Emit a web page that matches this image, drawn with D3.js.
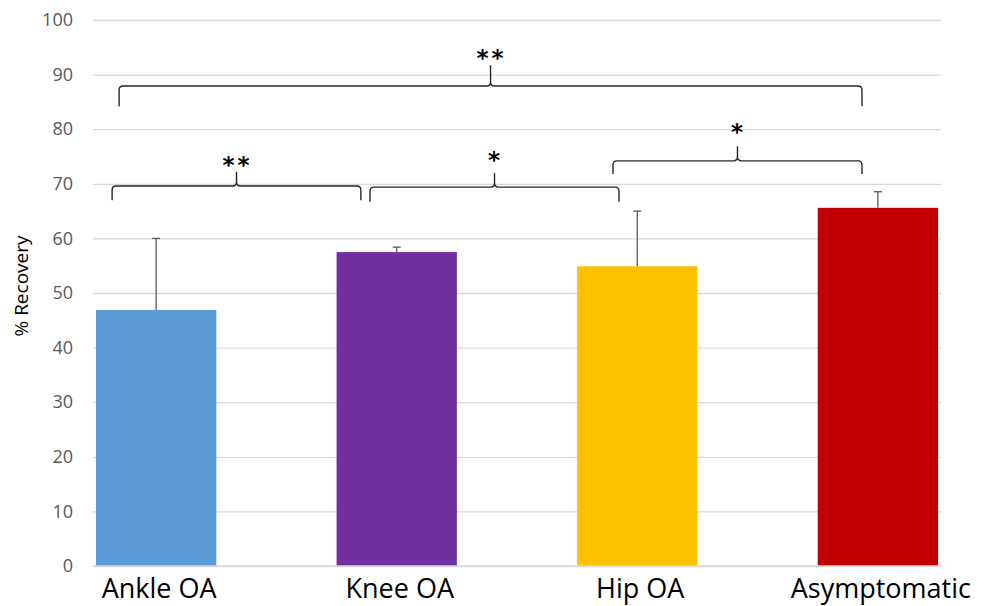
<!DOCTYPE html>
<html>
<head>
<meta charset="utf-8">
<script src="https://cdn.jsdelivr.net/npm/d3@7"></script>
<style>
  body { margin: 0; background: #fff; }
  svg { display: block; }
</style>
</head>
<body>
<div id="chart"></div>
<script>
// values
var categories = ['Ankle OA', 'Knee OA', 'Hip OA', 'Asymptomatic'];
var recovery = [46.9, 57.5, 54.9, 65.6];
var errorUp = [13.1, 0.9, 10.1, 2.95];
var barColors = ['#5b9bd5', '#7030a0', '#ffc000', '#c00000'];
var yTicks = [0, 10, 20, 30, 40, 50, 60, 70, 80, 90, 100];

// significance braces: start/end in category units (0 = first bar centre), levels in % units
var braceStart = [-0.183, 0.889, 1.899, -0.154];
var braceEnd = [0.851, 1.924, 2.934, 2.934];
var braceLine = [69.6, 69.4, 74.2, 87.9];
var braceFoot = [67.0, 66.7, 71.8, 84.2];
var braceTip = [72.2, 72.0, 76.9, 91.7];
var braceStarAt = [74.3, 75.2, 80.3, 93.8];
var braceLabel = ['**', '*', '*', '**'];

var width = 984, height = 606;
var margin = { top: 20, right: 43, bottom: 40, left: 93 };
var innerW = width - margin.left - margin.right,
  innerH = height - margin.top - margin.bottom;

var svg = d3.select('#chart').append('svg')
  .attr('width', width)
  .attr('height', height);

var g = svg.append('g')
  .attr('transform', 'translate(' + margin.left + ',' + margin.top + ')');

var x = d3.scaleBand()
  .domain(categories)
  .range([0, innerW])
  .paddingInner(0.5)
  .paddingOuter(0.0125);

var y = d3.scaleLinear().domain([0, 100]).range([innerH, 0]);

// category index -> bar centre
var xPos = d3.scaleLinear()
  .domain([0, categories.length - 1])
  .range([x(categories[0]) + x.bandwidth() / 2, x(categories[categories.length - 1]) + x.bandwidth() / 2]);

// gridlines
var yAxis = d3.axisLeft(y).tickValues(yTicks).tickSize(-innerW).tickPadding(20);
var yg = g.append('g').attr('class', 'axis axis--y').call(yAxis);
yg.select('.domain').remove();
yg.selectAll('.tick line').attr('stroke', '#d9d9d9').attr('stroke-width', 1.3);
yg.selectAll('.tick text')
  .attr('fill', '#595959')
  .style('font-family', '"Open Sans", sans-serif')
  .style('font-size', '18px');

// bars
var data = categories.map(function(c, i) {
  return { cat: c, val: recovery[i], err: errorUp[i], color: barColors[i] };
});

g.selectAll('.bar')
  .data(data)
  .enter()
  .append('rect')
  .attr('class', 'bar')
  .attr('x', function(d) { return x(d.cat); })
  .attr('width', x.bandwidth())
  .attr('y', function(d) { return y(d.val); })
  .attr('height', function(d) { return y(0) - y(d.val); })
  .attr('fill', function(d) { return d.color; });

// error bars (upper only)
var eb = g.selectAll('.err').data(data).enter().append('g').attr('class', 'err');
eb.append('line')
  .attr('x1', function(d) { return x(d.cat) + x.bandwidth() / 2; })
  .attr('x2', function(d) { return x(d.cat) + x.bandwidth() / 2; })
  .attr('y1', function(d) { return y(d.val); })
  .attr('y2', function(d) { return y(d.val + d.err); })
  .attr('stroke', '#595959')
  .attr('stroke-width', 1.3);
eb.append('line')
  .attr('x1', function(d) { return x(d.cat) + x.bandwidth() / 2 - 4; })
  .attr('x2', function(d) { return x(d.cat) + x.bandwidth() / 2 + 4; })
  .attr('y1', function(d) { return y(d.val + d.err); })
  .attr('y2', function(d) { return y(d.val + d.err); })
  .attr('stroke', '#595959')
  .attr('stroke-width', 1.3);

// x axis baseline
g.append('line')
  .attr('x1', 0).attr('x2', innerW)
  .attr('y1', y(0)).attr('y2', y(0))
  .attr('stroke', '#d9d9d9')
  .attr('stroke-width', 1.3);

// category labels
g.selectAll('.cat')
  .data(categories)
  .enter()
  .append('text')
  .attr('class', 'cat')
  .attr('x', function(d) { return x(d) + x.bandwidth() / 2 + 3; })
  .attr('y', y(0) + 32)
  .attr('text-anchor', 'middle')
  .attr('fill', '#000')
  .style('font-family', '"Open Sans", sans-serif')
  .style('font-size', '27px')
  .text(function(d) { return d; });

// braces
function bracePath(x1, x2, yl, yf, yt) {
  var r = 4, xm = (x1 + x2) / 2;
  return 'M' + x1 + ',' + yf +
    'L' + x1 + ',' + (yl + r) +
    'Q' + x1 + ',' + yl + ' ' + (x1 + r) + ',' + yl +
    'L' + (xm - r) + ',' + yl +
    'Q' + xm + ',' + yl + ' ' + xm + ',' + (yl - r) +
    'L' + xm + ',' + yt +
    'M' + xm + ',' + (yl - r) +
    'Q' + xm + ',' + yl + ' ' + (xm + r) + ',' + yl +
    'L' + (x2 - r) + ',' + yl +
    'Q' + x2 + ',' + yl + ' ' + x2 + ',' + (yl + r) +
    'L' + x2 + ',' + yf;
}

var braces = braceStart.map(function(s, i) {
  return { s: s, e: braceEnd[i], line: braceLine[i], foot: braceFoot[i], tip: braceTip[i], star: braceStarAt[i], label: braceLabel[i] };
});

g.selectAll('.brace')
  .data(braces)
  .enter()
  .append('path')
  .attr('class', 'brace')
  .attr('fill', 'none')
  .attr('stroke', '#262626')
  .attr('stroke-width', 1.4)
  .attr('d', function(d) {
    return bracePath(xPos(d.s), xPos(d.e), y(d.line), y(d.foot), y(d.tip));
  });

var starSize = 23;
g.selectAll('.star')
  .data(braces)
  .enter()
  .append('text')
  .attr('class', 'star')
  .attr('x', function(d) { return (xPos(d.s) + xPos(d.e)) / 2 + 1; })
  .attr('y', function(d) { return y(d.star) + 0.53 * starSize; })
  .attr('text-anchor', 'middle')
  .attr('fill', '#000')
  .style('font-family', '"DejaVu Sans", sans-serif')
  .style('font-weight', 'bold')
  .style('font-size', starSize + 'px')
  .style('letter-spacing', '3px')
  .text(function(d) { return d.label; });

// y title
svg.append('text')
  .attr('transform', 'translate(28,286) rotate(-90)')
  .attr('text-anchor', 'middle')
  .attr('fill', '#000')
  .style('font-family', '"Open Sans", sans-serif')
  .style('font-size', '19px')
  .text('% Recovery');
</script>
</body>
</html>
